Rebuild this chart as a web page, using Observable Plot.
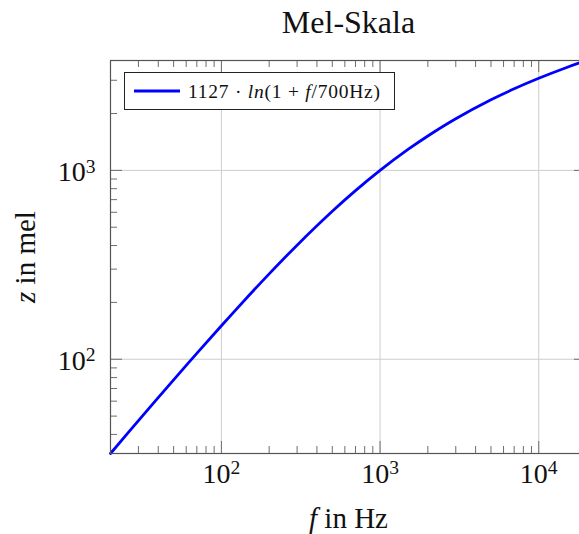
<!DOCTYPE html>
<html>
<head>
<meta charset="utf-8">
<script src="https://cdn.jsdelivr.net/npm/d3@7"></script>
<script src="https://cdn.jsdelivr.net/npm/@observablehq/plot@0.6"></script>
<style>
  html, body { margin: 0; padding: 0; background: #fff; overflow: hidden; }
  #chart svg { display: block; }
</style>
</head>
<body>
<div id="chart"></div>
<script>
// Data
const freqHz = [20, 30, 50, 70, 100, 150, 200, 300, 500, 700, 1000, 1500, 2000, 3000, 5000, 7000, 10000, 15000, 20000];
const melValues = [31.7, 47.3, 77.8, 107.4, 150.5, 218.8, 283.2, 402.0, 607.4, 781.2, 1000.0, 1290.6, 1521.4, 1876.5, 2363.5, 2702.4, 3073.2, 3505.3, 3817.1];
const xMajor = [100, 1000, 10000];
const yMajor = [100, 1000];
const xMinor = [20, 30, 40, 50, 60, 70, 80, 90, 200, 300, 400, 500, 600, 700, 800, 900, 2000, 3000, 4000, 5000, 6000, 7000, 8000, 9000, 20000];
const yMinor = [40, 50, 60, 70, 80, 90, 200, 300, 400, 500, 600, 700, 800, 900, 2000, 3000];
const titleText = "Mel-Skala";
const xLabel = "f in Hz";
const yLabel = "z in mel";
const legendLabel = "1127 · ln(1 + f/700Hz)";

const data = freqHz.map((f, i) => ({f, z: melValues[i]}));

const W = 590, H = 534, mL = 110, mR = 4, mT = 60, mB = 81;
const fh = H - mT - mB, fw = W - mL - mR;
const font = "'Liberation Serif', 'DejaVu Serif', serif";
const tickCol = "#6e6e6e", gridCol = "#cdcdcd";
const minorLen = 7, majorLen = 12;

const svg = Plot.plot({
  width: W, height: H,
  marginLeft: mL, marginRight: mR, marginTop: mT, marginBottom: mB,
  style: {fontFamily: font, background: "#fff", overflow: "visible"},
  x: {type: "log", domain: [20, 20000], axis: null},
  y: {type: "log", domain: [31.7, 3817.1], axis: null},
  marks: [
    Plot.ruleX(xMajor, {x: d => d, stroke: gridCol, strokeWidth: 1}),
    Plot.ruleY(yMajor, {y: d => d, stroke: gridCol, strokeWidth: 1}),
    // minor ticks, inward on all four sides
    Plot.tickX(xMinor, {x: d => d, insetTop: fh - minorLen, stroke: tickCol}),
    Plot.tickX(xMinor, {x: d => d, insetBottom: fh - minorLen, stroke: tickCol}),
    Plot.tickY(yMinor, {y: d => d, insetRight: fw - minorLen, stroke: tickCol}),
    Plot.tickY(yMinor, {y: d => d, insetLeft: fw - minorLen, stroke: tickCol}),
    // major ticks
    Plot.tickX(xMajor, {x: d => d, insetTop: fh - majorLen, stroke: tickCol}),
    Plot.tickX(xMajor, {x: d => d, insetBottom: fh - majorLen, stroke: tickCol}),
    Plot.tickY(yMajor, {y: d => d, insetRight: fw - majorLen, stroke: tickCol}),
    Plot.tickY(yMajor, {y: d => d, insetLeft: fw - majorLen, stroke: tickCol}),
    Plot.line(data, {x: "f", y: "z", stroke: "#0000ff", strokeWidth: 2.8, curve: "catmull-rom"}),
    Plot.frame({stroke: "#555", strokeWidth: 1.2}),
    // tick labels
    Plot.text(xMajor, {x: d => d, text: d => "10^" + Math.round(Math.log10(d)), frameAnchor: "bottom",
      textAnchor: "middle", lineAnchor: "bottom", dy: 29, fontSize: 28, fill: "#111"}),
    Plot.text(yMajor, {y: d => d, text: d => "10^" + Math.round(Math.log10(d)), frameAnchor: "left",
      textAnchor: "end", lineAnchor: "bottom", dx: -15, dy: 11, fontSize: 28, fill: "#111"}),
    // axis labels and title
    Plot.text([xLabel], {text: d => d, frameAnchor: "bottom", textAnchor: "middle", lineAnchor: "bottom",
      dy: 74, fontSize: 29, fill: "#111"}),
    Plot.text([yLabel], {text: d => d, frameAnchor: "left", textAnchor: "middle", rotate: -90,
      lineAnchor: "middle", dx: -85, fontSize: 29, fill: "#111"}),
    Plot.text([titleText], {text: d => d, frameAnchor: "top", textAnchor: "middle", lineAnchor: "bottom",
      dy: -28, fontSize: 32, fill: "#111"})
  ]
});
svg.style.maxWidth = "none";
svg.setAttribute("font-family", font);

// rich text: superscripts and italics
d3.select(svg).selectAll("text").each(function() {
  const t = this.textContent;
  const sel = d3.select(this);
  let m = /^10\^(\d)$/.exec(t);
  if (m) {
    sel.text("10");
    sel.append("tspan").attr("dy", "-0.45em").attr("font-size", "0.7em").text(m[1]);
  } else if (t === xLabel || t === yLabel) {
    const parts = t.split(" ");
    sel.text("");
    sel.append("tspan").attr("font-style", "italic").text(parts[0]);
    sel.append("tspan").text(" " + parts.slice(1).join(" "));
  }
});

// legend box
const lg = d3.select(svg).append("g").attr("font-family", font);
lg.append("rect").attr("x", 124.5).attr("y", 72.5).attr("width", 270).attr("height", 37)
  .attr("fill", "#fff").attr("stroke", "#222").attr("stroke-width", 1);
lg.append("line").attr("x1", 134).attr("x2", 180).attr("y1", 91).attr("y2", 91)
  .attr("stroke", "#0000ff").attr("stroke-width", 2.8);
const lt = lg.append("text").attr("x", 188).attr("y", 97.5).attr("font-size", 19.5)
  .attr("text-anchor", "start").attr("fill", "#111")
  .attr("textLength", 192).attr("lengthAdjust", "spacing");
lt.append("tspan").text("1127 · ");
lt.append("tspan").attr("font-style", "italic").text("ln");
lt.append("tspan").text("(1 + ");
lt.append("tspan").attr("font-style", "italic").text("f");
lt.append("tspan").text("/700Hz)");

document.getElementById("chart").appendChild(svg);
</script>
</body>
</html>
